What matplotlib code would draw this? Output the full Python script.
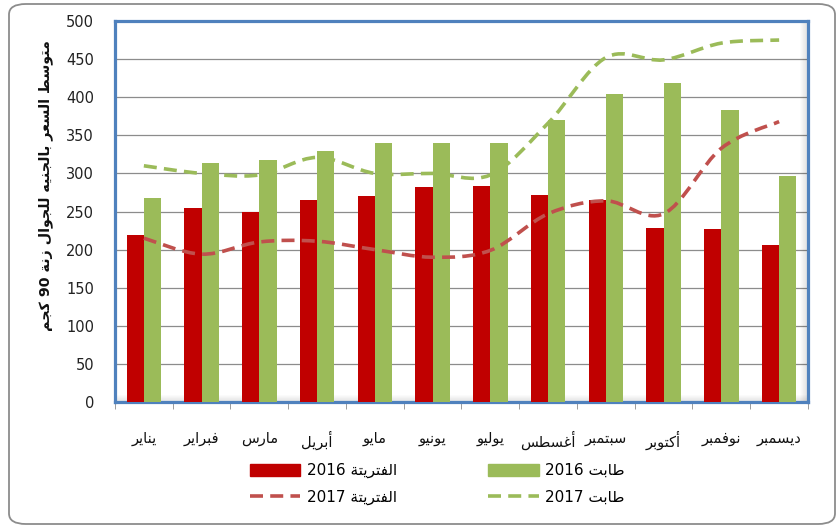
import re
import numpy as np
import matplotlib
matplotlib.use("Agg")
import matplotlib.pyplot as plt
from matplotlib.path import Path
from matplotlib.patches import PathPatch, Patch, FancyBboxPatch
from matplotlib.lines import Line2D

# ---- data ----
months = ["يناير", "فبراير", "مارس", "أبريل", "مايو", "يونيو",
          "يوليو", "أغسطس", "سبتمبر", "أكتوبر", "نوفمبر", "ديسمبر"]
feterita_2016 = [219, 255, 250, 265, 270, 282, 284, 271, 265, 229, 227, 206]
tabat_2016 = [268, 314, 318, 329, 340, 340, 340, 370, 404, 418, 383, 297]
feterita_2017 = [215, 194, 210, 211, 200, 190, 199, 247, 264, 247, 333, 368]
tabat_2017 = [310, 300, 298, 321, 300, 300, 298, 366, 452, 449, 471, 475]
yticks = list(range(0, 501, 50))
ylabel = "متوسط السعر بالجنيه للجوال زنة 90 كجم"
lbl_fet = "الفتريتة"
lbl_tab = "طابت"

# ---- minimal arabic shaping (matplotlib has no bidi / joining) ----
# isolated, final, initial, medial
FORMS = {
    'ا': ('\uFE8D', '\uFE8E', None, None),
    'أ': ('\uFE83', '\uFE84', None, None),
    'ب': ('\uFE8F', '\uFE90', '\uFE91', '\uFE92'),
    'ة': ('\uFE93', '\uFE94', None, None),
    'ت': ('\uFE95', '\uFE96', '\uFE97', '\uFE98'),
    'ج': ('\uFE9D', '\uFE9E', '\uFE9F', '\uFEA0'),
    'د': ('\uFEA9', '\uFEAA', None, None),
    'ر': ('\uFEAD', '\uFEAE', None, None),
    'ز': ('\uFEAF', '\uFEB0', None, None),
    'س': ('\uFEB1', '\uFEB2', '\uFEB3', '\uFEB4'),
    'ط': ('\uFEC1', '\uFEC2', '\uFEC3', '\uFEC4'),
    'ع': ('\uFEC9', '\uFECA', '\uFECB', '\uFECC'),
    'غ': ('\uFECD', '\uFECE', '\uFECF', '\uFED0'),
    'ف': ('\uFED1', '\uFED2', '\uFED3', '\uFED4'),
    'ك': ('\uFED9', '\uFEDA', '\uFEDB', '\uFEDC'),
    'ل': ('\uFEDD', '\uFEDE', '\uFEDF', '\uFEE0'),
    'م': ('\uFEE1', '\uFEE2', '\uFEE3', '\uFEE4'),
    'ن': ('\uFEE5', '\uFEE6', '\uFEE7', '\uFEE8'),
    'ه': ('\uFEE9', '\uFEEA', '\uFEEB', '\uFEEC'),
    'و': ('\uFEED', '\uFEEE', None, None),
    'ي': ('\uFEF1', '\uFEF2', '\uFEF3', '\uFEF4'),
}


def ar(text):
    out = []
    for i, ch in enumerate(text):
        if ch not in FORMS:
            out.append(ch)
            continue
        prev = text[i-1] if i > 0 else ''
        nxt = text[i+1] if i + 1 < len(text) else ''
        jp = prev in FORMS and FORMS[prev][2] is not None
        jn = FORMS[ch][2] is not None and nxt in FORMS
        iso, fin, ini, med = FORMS[ch]
        if jp and jn:
            out.append(med)
        elif jp:
            out.append(fin)
        elif jn:
            out.append(ini)
        else:
            out.append(iso)
    vis = ''.join(out)[::-1]
    return re.sub(r'[0-9]+', lambda m: m.group(0)[::-1], vis)


def smooth_path(x, y):
    # excel-like smoothed line (catmull-rom as cubic bezier)
    n = len(x)
    verts = [(x[0], y[0])]
    codes = [Path.MOVETO]
    for i in range(n - 1):
        a = i - 1 if i > 0 else i
        d = i + 2 if i + 2 < n else i + 1
        c1 = (x[i] + (x[i+1] - x[a]) / 6, y[i] + (y[i+1] - y[a]) / 6)
        c2 = (x[i+1] - (x[d] - x[i]) / 6, y[i+1] - (y[d] - y[i]) / 6)
        verts += [c1, c2, (x[i+1], y[i+1])]
        codes += [Path.CURVE4] * 3
    return Path(verts, codes)


plt.rcParams['font.family'] = ['DejaVu Sans']

RED = "#C00000"
GREEN = "#9BBB59"
RED_L = "#C0504D"
BLUE = "#4F81BD"

W, H = 837, 527
fig = plt.figure(figsize=(W/100, H/100), dpi=100)
fig.patch.set_facecolor("white")

# outer rounded chart border
fig.add_artist(FancyBboxPatch((9/W, 3/H), 826/W, 520/H,
                              boxstyle="round,pad=0,rounding_size=0.02",
                              transform=fig.transFigure, fc="white",
                              ec="#8C8C8C", lw=1.3, zorder=0))

ax = fig.add_axes([115/W, 1 - 402/H, 693/W, 381/H])
x = np.arange(len(months))
bw = 0.3
ax.bar(x - bw/2, feterita_2016, width=bw, color=RED, zorder=3)
ax.bar(x + bw/2, tabat_2016, width=bw, color=GREEN, zorder=3)

dash = (0, (3.6, 2.0))
for vals, col in [(feterita_2017, RED_L), (tabat_2017, GREEN)]:
    p = PathPatch(smooth_path(x, vals), fill=False, ec=col, lw=2.6,
                  linestyle=dash, zorder=4)
    ax.add_patch(p)

ax.set_xlim(-0.5, len(months) - 0.5)
ax.set_ylim(0, 500)
ax.set_yticks(yticks)
ax.set_yticklabels([str(v) for v in yticks], fontsize=10.5, color="#222222")
ax.yaxis.grid(True, color="#8C8C8C", lw=0.9, zorder=1)
ax.set_axisbelow(True)

ax.set_xticks(x)
ax.set_xticklabels([ar(m) for m in months], fontsize=10.5, color="#111111")
ax.set_xticks(np.arange(-0.5, len(months)), minor=True)
ax.tick_params(axis='x', which='major', length=0, pad=21)
ax.tick_params(axis='x', which='minor', length=5, color="#8C8C8C",
               direction='out')
ax.tick_params(axis='y', length=0, pad=15)

for s in ax.spines.values():
    s.set_color(BLUE)
    s.set_linewidth(2.3)

# inner shadow along right and bottom of the plot frame
for i in range(7):
    a = 0.10 * (1 - i / 7)
    ax.axvline(11.5 - (i + 1.5) / 57.6, color="black", alpha=a, lw=0.8,
               zorder=2)
    ax.axhline((i + 1.5) * 500 / 381, color="black", alpha=a, lw=0.8,
               zorder=2)

fig.text(46/W, 1 - 186/H, ar(ylabel), rotation=90, ha="center",
         va="center", fontsize=10.3, fontweight="bold", color="#111111")

handles = [Patch(color=RED), Line2D([], [], color=RED_L, lw=2.6, linestyle=dash),
           Patch(color=GREEN), Line2D([], [], color=GREEN, lw=2.6, linestyle=dash)]
labels = [ar(lbl_fet + " 2016"), ar(lbl_fet + " 2017"),
          ar(lbl_tab + " 2016"), ar(lbl_tab + " 2017")]
fig.legend(handles, labels, loc="upper left", bbox_to_anchor=(250/W, 1 - 463/H),
           ncol=2, frameon=False, fontsize=11, handlelength=3.3,
           handleheight=0.8, handletextpad=0.4, columnspacing=6.0,
           labelspacing=0.75, borderpad=0, borderaxespad=0)

fig.savefig("out.png", dpi=100)
